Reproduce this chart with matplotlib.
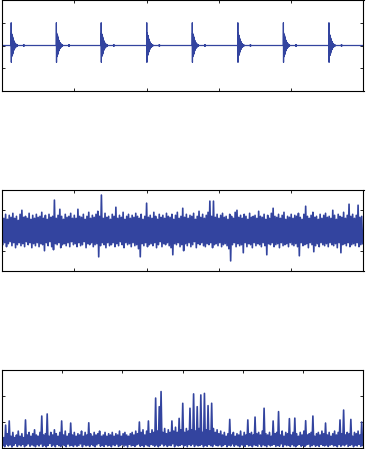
import numpy as np
import matplotlib.pyplot as plt

blue = '#33449f'

# --- top panel: repeated impulse responses ---
spike_t = [0.125, 0.75, 1.37, 2.0, 2.63, 3.26, 3.89, 4.52]
ring_dt = 0.002
ring = [0, 1.0, -0.74, 0.55, -0.5, 0.48, -0.45, 0.46, -0.42, 0.44, -0.4,
        0.38, -0.36, 0.33, -0.3, 0.28, -0.26, 0.24, -0.22, 0.2, -0.19,
        0.18, -0.16, 0.15, -0.14, 0.12, -0.11, 0.1, -0.1, 0.09, -0.08,
        0.08, -0.07, 0.06, -0.06, 0.05, -0.05, 0.04, -0.04, 0.03, -0.03,
        0.025, -0.02, 0.02, -0.015, 0.01, 0]
tail_start = 0.17
tail = [0, 0.025, -0.03, 0.03, -0.025, 0.02, -0.015, 0.01, 0]

# --- middle panel: noise, upper / lower excursions per column (step 0.025) ---
noise_hi = [
    0.7, 0.6, 0.8, 0.55, 0.75, 0.65, 0.85, 0.6, 0.7, 0.5, 0.8, 1.0, 0.65, 0.7, 0.6, 0.85, 0.55, 0.75, 0.6, 0.8,
    0.65, 0.7, 0.9, 0.6, 0.75, 0.55, 0.8, 0.65, 0.7, 1.5, 0.6, 0.75, 1.05, 0.7, 0.55, 0.8, 0.65, 0.7, 0.85, 0.6,
    0.75, 0.6, 1.05, 0.7, 0.65, 0.8, 0.55, 0.7, 0.9, 0.6, 0.75, 0.65, 0.8, 0.95, 0.7, 1.75, 0.6, 0.85, 0.65, 0.7,
    0.55, 0.8, 0.7, 1.15, 0.6, 0.75, 0.65, 0.9, 0.55, 0.7, 0.8, 0.6, 0.75, 0.65, 0.85, 0.7, 0.6, 0.8, 0.55, 0.7,
    1.35, 0.65, 0.75, 0.6, 0.9, 0.7, 0.55, 0.8, 0.65, 0.75, 0.6, 0.85, 0.7, 0.65, 0.8, 0.55, 0.75, 0.9, 0.6, 0.7,
    1.1, 0.65, 0.8, 0.6, 0.75, 0.7, 0.85, 0.55, 0.7, 0.95, 0.65, 0.8, 0.6, 0.75, 0.9, 1.45, 0.7, 1.45, 0.65, 0.8,
    0.6, 0.75, 0.85, 0.65, 0.7, 0.55, 0.8, 0.7, 0.6, 0.9, 1.0, 0.65, 0.75, 0.6, 0.8, 0.7, 0.55, 0.85, 0.65, 0.7,
    0.75, 0.6, 0.95, 0.7, 0.65, 0.8, 0.55, 0.75, 0.6, 0.85, 1.1, 0.7, 0.65, 0.8, 0.6, 0.75, 0.9, 0.55, 0.7, 0.65,
    0.8, 0.6, 0.75, 0.7, 0.85, 0.65, 0.55, 0.8, 1.2, 0.7, 0.6, 0.75, 0.9, 0.65, 0.7, 0.55, 0.8, 0.6, 0.75, 0.85,
    0.65, 0.7, 0.6, 1.0, 0.75, 0.55, 0.8, 0.7, 0.65, 0.9, 0.6, 0.75, 1.3, 0.7, 0.8, 0.6, 0.75, 1.25, 0.65, 0.7]
noise_lo = [
    -0.7, -0.6, -0.8, -0.65, -0.55, -0.75, -0.6, -0.85, -0.7, -0.6, -0.75, -0.65, -0.8, -0.55, -0.7, -0.6, -0.85, -0.65, -0.75, -0.6,
    -0.8, -0.65, -0.7, -1.0, -0.6, -0.75, -0.55, -0.8, -0.95, -0.65, -0.7, -0.6, -0.85, -0.7, -0.65, -0.75, -0.6, -0.8, -0.55, -0.7,
    -0.65, -0.8, -0.6, -0.75, -0.7, -0.55, -0.85, -0.65, -0.7, -0.6, -0.8, -0.7, -0.65, -1.3, -0.75, -0.6, -0.7, -0.85, -0.6, -0.75,
    -0.7, -0.6, -0.8, -0.65, -0.75, -0.55, -0.7, -0.85, -0.6, -0.7, -0.65, -0.8, -0.6, -0.75, -0.7, -0.9, -1.3, -0.65, -0.75, -0.6,
    -0.8, -0.7, -0.65, -0.75, -0.6, -0.85, -0.7, -0.55, -0.8, -0.65, -0.7, -0.6, -0.75, -0.85, -1.2, -0.65, -0.7, -0.6, -0.8, -0.7,
    -1.0, -0.65, -0.75, -0.6, -0.8, -0.7, -0.55, -0.85, -0.65, -0.7, -0.6, -0.75, -0.8, -0.65, -0.7, -0.6, -0.85, -0.7, -0.65, -0.75,
    -0.6, -0.8, -0.7, -0.65, -0.75, -0.9, -1.5, -0.7, -0.6, -0.8, -0.65, -0.75, -0.7, -1.1, -0.6, -0.8, -0.65, -0.7, -0.85, -0.6,
    -0.75, -0.65, -0.7, -0.8, -0.6, -0.75, -1.2, -0.65, -0.7, -0.6, -0.8, -0.7, -0.65, -0.85, -0.6, -0.75, -0.7, -0.65, -0.8, -0.6,
    -0.7, -0.75, -0.65, -0.8, -1.25, -0.6, -0.75, -0.7, -0.65, -0.85, -0.6, -0.7, -1.05, -0.75, -0.65, -0.8, -0.6, -0.7, -0.75, -0.65,
    -0.8, -0.6, -0.7, -0.75, -0.65, -0.85, -0.6, -1.1, -0.7, -0.65, -0.75, -0.6, -0.8, -0.7, -0.65, -0.75, -0.6, -0.8, -0.7, -0.65]

# --- bottom panel: magnitude, peaks / troughs per column (step 0.03) ---
mag_hi = [
    0.5, 0.4, 0.88, 0.55, 1.04, 0.45, 0.6, 0.4, 0.5, 0.65, 0.45, 0.55, 0.4, 1.08, 0.5, 0.6, 0.45, 0.55, 0.7, 0.5,
    0.45, 0.6, 1.23, 0.5, 0.55, 1.31, 0.45, 0.6, 0.5, 0.7, 0.55, 0.45, 0.6, 1.04, 0.5, 0.65, 0.45, 0.55, 0.96, 0.5,
    0.6, 0.45, 0.55, 0.5, 0.65, 0.45, 0.6, 0.5, 0.97, 0.55, 0.45, 0.6, 0.5, 0.55, 0.65, 0.45, 0.5, 0.6, 0.45, 0.55,
    0.5, 0.6, 0.45, 0.55, 0.5, 0.65, 0.45, 0.55, 0.6, 0.5, 0.45, 0.55, 0.6, 0.5, 0.65, 0.55, 1.0, 0.6, 0.7, 0.5,
    0.65, 1.04, 0.55, 0.7, 0.6, 1.92, 0.65, 1.59, 2.17, 0.6, 0.75, 0.55, 0.7, 0.6, 1.04, 0.65, 0.8, 0.6, 1.14, 0.7,
    1.72, 0.6, 0.75, 0.65, 1.53, 0.7, 2.08, 0.65, 1.59, 0.75, 2.04, 0.6, 2.1, 0.7, 1.63, 0.65, 1.72, 0.75, 0.6, 0.7,
    0.55, 0.65, 0.5, 0.6, 0.45, 0.55, 1.1, 0.5, 0.6, 0.45, 0.55, 0.5, 0.65, 0.45, 0.6, 0.5, 1.08, 0.55, 0.6, 0.5,
    1.19, 0.55, 0.6, 0.5, 0.65, 1.53, 0.55, 0.5, 0.6, 0.45, 1.04, 0.55, 0.6, 1.4, 0.5, 0.65, 0.45, 0.6, 0.55, 1.13,
    0.5, 0.6, 1.15, 0.55, 0.45, 0.6, 0.5, 0.65, 1.05, 0.5, 0.55, 0.6, 1.23, 0.45, 0.55, 0.6, 0.5, 0.65, 0.55, 0.96,
    0.5, 0.6, 0.45, 0.55, 0.65, 0.5, 0.6, 1.08, 0.55, 1.46, 0.5, 0.6, 0.55, 1.1, 0.45, 0.6, 0.55, 0.65, 0.5, 1.0]
mag_lo = [
    0.1, 0.05, 0.15, 0.08, 0.12, 0.04, 0.1, 0.18, 0.06, 0.12, 0.08, 0.14, 0.05, 0.1, 0.16, 0.07, 0.12, 0.09, 0.05, 0.13,
    0.08, 0.15, 0.06, 0.11, 0.04, 0.1, 0.17, 0.07, 0.12, 0.05, 0.14, 0.09, 0.06, 0.12, 0.1, 0.05, 0.15, 0.08, 0.11, 0.06,
    0.12, 0.07, 0.1, 0.16, 0.05, 0.13, 0.08, 0.11, 0.06, 0.14, 0.09, 0.05, 0.12, 0.17, 0.07, 0.1, 0.06, 0.13, 0.08, 0.11,
    0.05, 0.12, 0.09, 0.15, 0.06, 0.1, 0.13, 0.07, 0.11, 0.04, 0.14, 0.08, 0.1, 0.06, 0.12, 0.16, 0.07, 0.1, 0.05, 0.13,
    0.09, 0.06, 0.14, 0.11, 0.07, 0.12, 0.05, 0.1, 0.15, 0.08, 0.13, 0.06, 0.11, 0.09, 0.16, 0.05, 0.12, 0.08, 0.1, 0.14,
    0.07, 0.11, 0.05, 0.13, 0.09, 0.15, 0.06, 0.12, 0.08, 0.1, 0.14, 0.05, 0.11, 0.07, 0.13, 0.09, 0.06, 0.15, 0.1, 0.08,
    0.12, 0.06, 0.1, 0.14, 0.05, 0.11, 0.08, 0.16, 0.07, 0.12, 0.09, 0.05, 0.13, 0.1, 0.06, 0.14, 0.08, 0.11, 0.05, 0.12,
    0.1, 0.07, 0.15, 0.06, 0.12, 0.09, 0.05, 0.13, 0.08, 0.11, 0.14, 0.06, 0.1, 0.07, 0.16, 0.05, 0.12, 0.09, 0.11, 0.06,
    0.13, 0.08, 0.05, 0.11, 0.14, 0.07, 0.1, 0.06, 0.12, 0.15, 0.05, 0.09, 0.13, 0.07, 0.11, 0.06, 0.14, 0.1, 0.08, 0.12,
    0.06, 0.11, 0.14, 0.08, 0.1, 0.05, 0.13, 0.07, 0.12, 0.09, 0.15, 0.06, 0.1, 0.13, 0.05, 0.11, 0.08, 0.14, 0.07, 0.1]


def interleave(hi, lo, step):
    n = len(hi)
    x = np.empty(2 * n)
    y = np.empty(2 * n)
    x[0::2] = np.arange(n) * step
    x[1::2] = np.arange(n) * step + step / 2
    y[0::2] = hi
    y[1::2] = lo
    return x, y


# build the impulse train from the template
t1, y1 = [0.0], [0.0]
for s in spike_t:
    for k, v in enumerate(ring):
        t1.append(s + k * ring_dt)
        y1.append(v)
    for k, v in enumerate(tail):
        t1.append(s + tail_start + k * ring_dt)
        y1.append(v)
t1.append(5.0)
y1.append(0.0)

x2, y2 = interleave(noise_hi, noise_lo, 0.025)
x3, y3 = interleave(mag_hi, mag_lo, 0.03)

fig = plt.figure(figsize=(3.67, 4.49), dpi=100)
W, H = 367, 449


def make_axes(top, bottom):
    return fig.add_axes([2 / W, (H - bottom) / H, 361.5 / W, (bottom - top) / H])


ax1 = make_axes(0, 91)
ax2 = make_axes(190, 271)
ax3 = make_axes(370, 448)

ax1.plot(t1, y1, color=blue, lw=0.9)
ax1.set_xlim(0, 5)
ax1.set_ylim(-2, 2)
ax1.set_xticks([1, 2, 3, 4])
ax1.set_yticks([-1, 0, 1])

ax2.plot(x2, y2, color=blue, lw=1.2)
ax2.set_xlim(0, 5)
ax2.set_ylim(-2, 2)
ax2.set_xticks([1, 2, 3, 4])
ax2.set_yticks([-1, 1])

ax3.plot(x3, y3, color=blue, lw=1.2)
ax3.set_xlim(0, 6)
ax3.set_ylim(0, 3)
ax3.set_xticks([1, 2, 3, 4, 5])
ax3.set_yticks([1, 2])

for ax in (ax1, ax2, ax3):
    ax.tick_params(direction='in', length=2.5, width=0.6, top=True, right=True,
                   labelbottom=False, labelleft=False)
    for sp in ax.spines.values():
        sp.set_linewidth(0.8)

fig.savefig('out.png', dpi=100)
